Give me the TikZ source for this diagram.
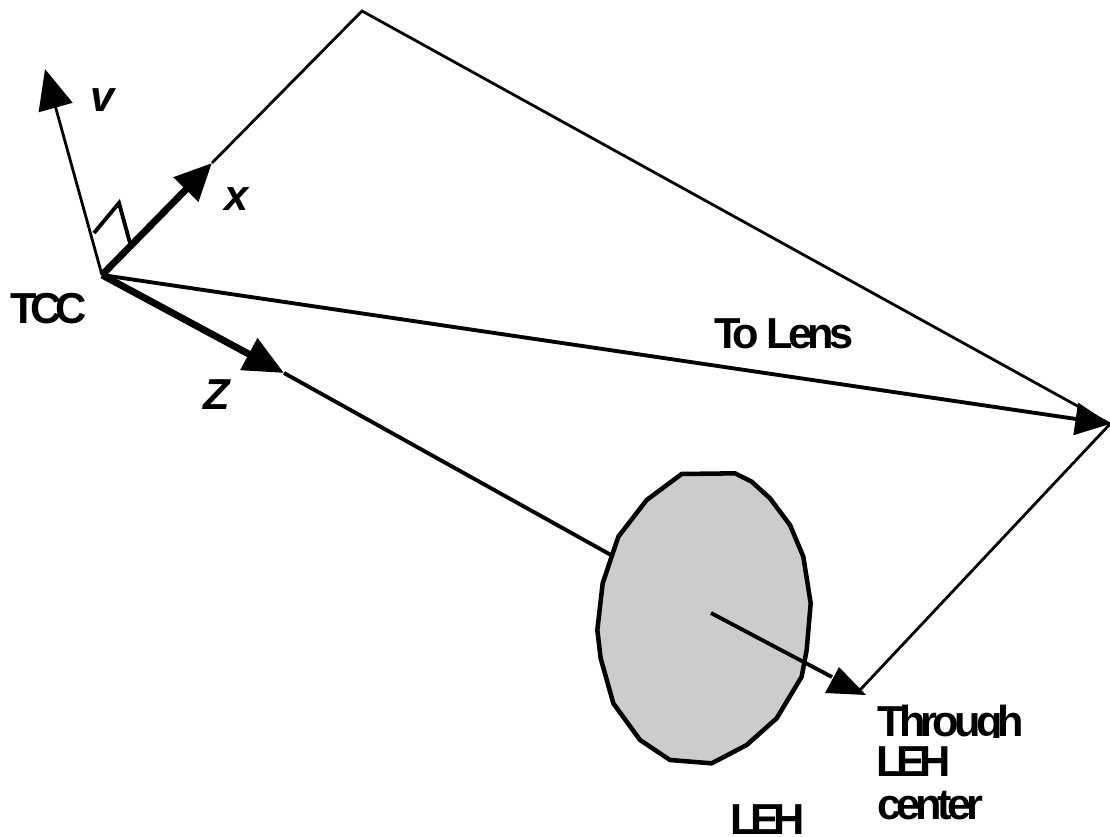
\documentclass[tikz,border=0pt]{standalone}
\usepackage{fontspec}
\setmainfont{Liberation Sans}[LetterSpace=-11]
\newfontfamily\tightf{Liberation Sans}[LetterSpace=-14]
\usetikzlibrary{arrows.meta}
\tikzset{
 thinline/.style={line width=2.1pt,line join=miter},
 midline/.style={line width=2.9pt},
 boldline/.style={line width=5.2pt},
 headed/.style={-{Triangle[length=30pt,width=26pt]}},
 lbl/.style={font=\fontsize{32.5}{34}\selectfont\bfseries,inner sep=0pt,align=left},
 tlbl/.style={font=\fontsize{32.5}{34}\tightf\bfseries,inner sep=0pt,align=left},
 ilbl/.style={font=\fontsize{32.5}{34}\selectfont\bfseries\itshape,inner sep=0pt},
}
\begin{document}
\begin{tikzpicture}[x=0.75pt,y=-0.75pt]
\useasboundingbox (0,0) rectangle (1110,837);
\coordinate (tcc) at (102,275);
\coordinate (vtip) at (45,69);
\coordinate (xtip) at (212,163);
\coordinate (top) at (362,11);
\coordinate (right) at (1110,424);
\coordinate (ztip) at (284,373);
\coordinate (zend) at (611,555);
\coordinate (cen) at (711,613);
\coordinate (ttip) at (866,695);
\coordinate (tstop) at (832,677);
\coordinate (tjoin) at (860,690);
\coordinate (m1) at (94,233);
\coordinate (m2) at (119,203);
\coordinate (m3) at (130,243);
% LEH
\begin{scope}[shift={(580,450)},x=0.25pt,y=-0.25pt]
\draw[fill=black!20,line width=3.4pt,line join=round] (305,72)--(465,70)--(515,95)--(570,145)--(630,225)--(670,320)--(692,460)--(680,600)--(665,680)--(590,805)--(500,885)--(395,940)--(270,930)--(180,870)--(100,760)--(62,625)--(52,540)--(68,400)--(115,260)--(200,150)--cycle;
\end{scope}
% lines
\draw[thinline] (xtip)--(top)--(right)--(tjoin);
\draw[midline] (ztip)--(zend);
\draw[midline] (cen)--(tstop);
\draw[thinline,headed] (tcc)--(vtip);
\draw[boldline,-{Triangle[length=28pt,width=25pt]}] (tcc)--(xtip);
\draw[boldline,headed] (tcc)--(ztip);
\draw[midline,-{Triangle[length=26pt,width=24pt]}] (tcc)--(right);
\fill (825,693)--(839,667)--(ttip)--cycle;
\draw[midline,line join=miter] (m1)--(m2)--(m3);
% text
\node[tlbl,anchor=base west] (ltcc) at (10,324) {TCC};
\node[ilbl,anchor=base west] (lv) at (90,112) {v};
\node[ilbl,anchor=base west] (lx) at (224,211) {x};
\node[ilbl,anchor=base west] (lz) at (203,410) {Z};
\node[lbl,anchor=base west] (ll) at (714,349) {To Lens};
\begin{scope}
\clip (870,698) rectangle (1040,737);
\node[lbl,anchor=base west] (l1) at (877,736) {Through};
\end{scope}
\node[tlbl,anchor=base west] (l2) at (876,776) {LEH};
\node[lbl,anchor=base west] (l3) at (877,819) {center};
\node[tlbl,anchor=base west] (leh) at (730,834) {LEH};
\end{tikzpicture}
\end{document}
